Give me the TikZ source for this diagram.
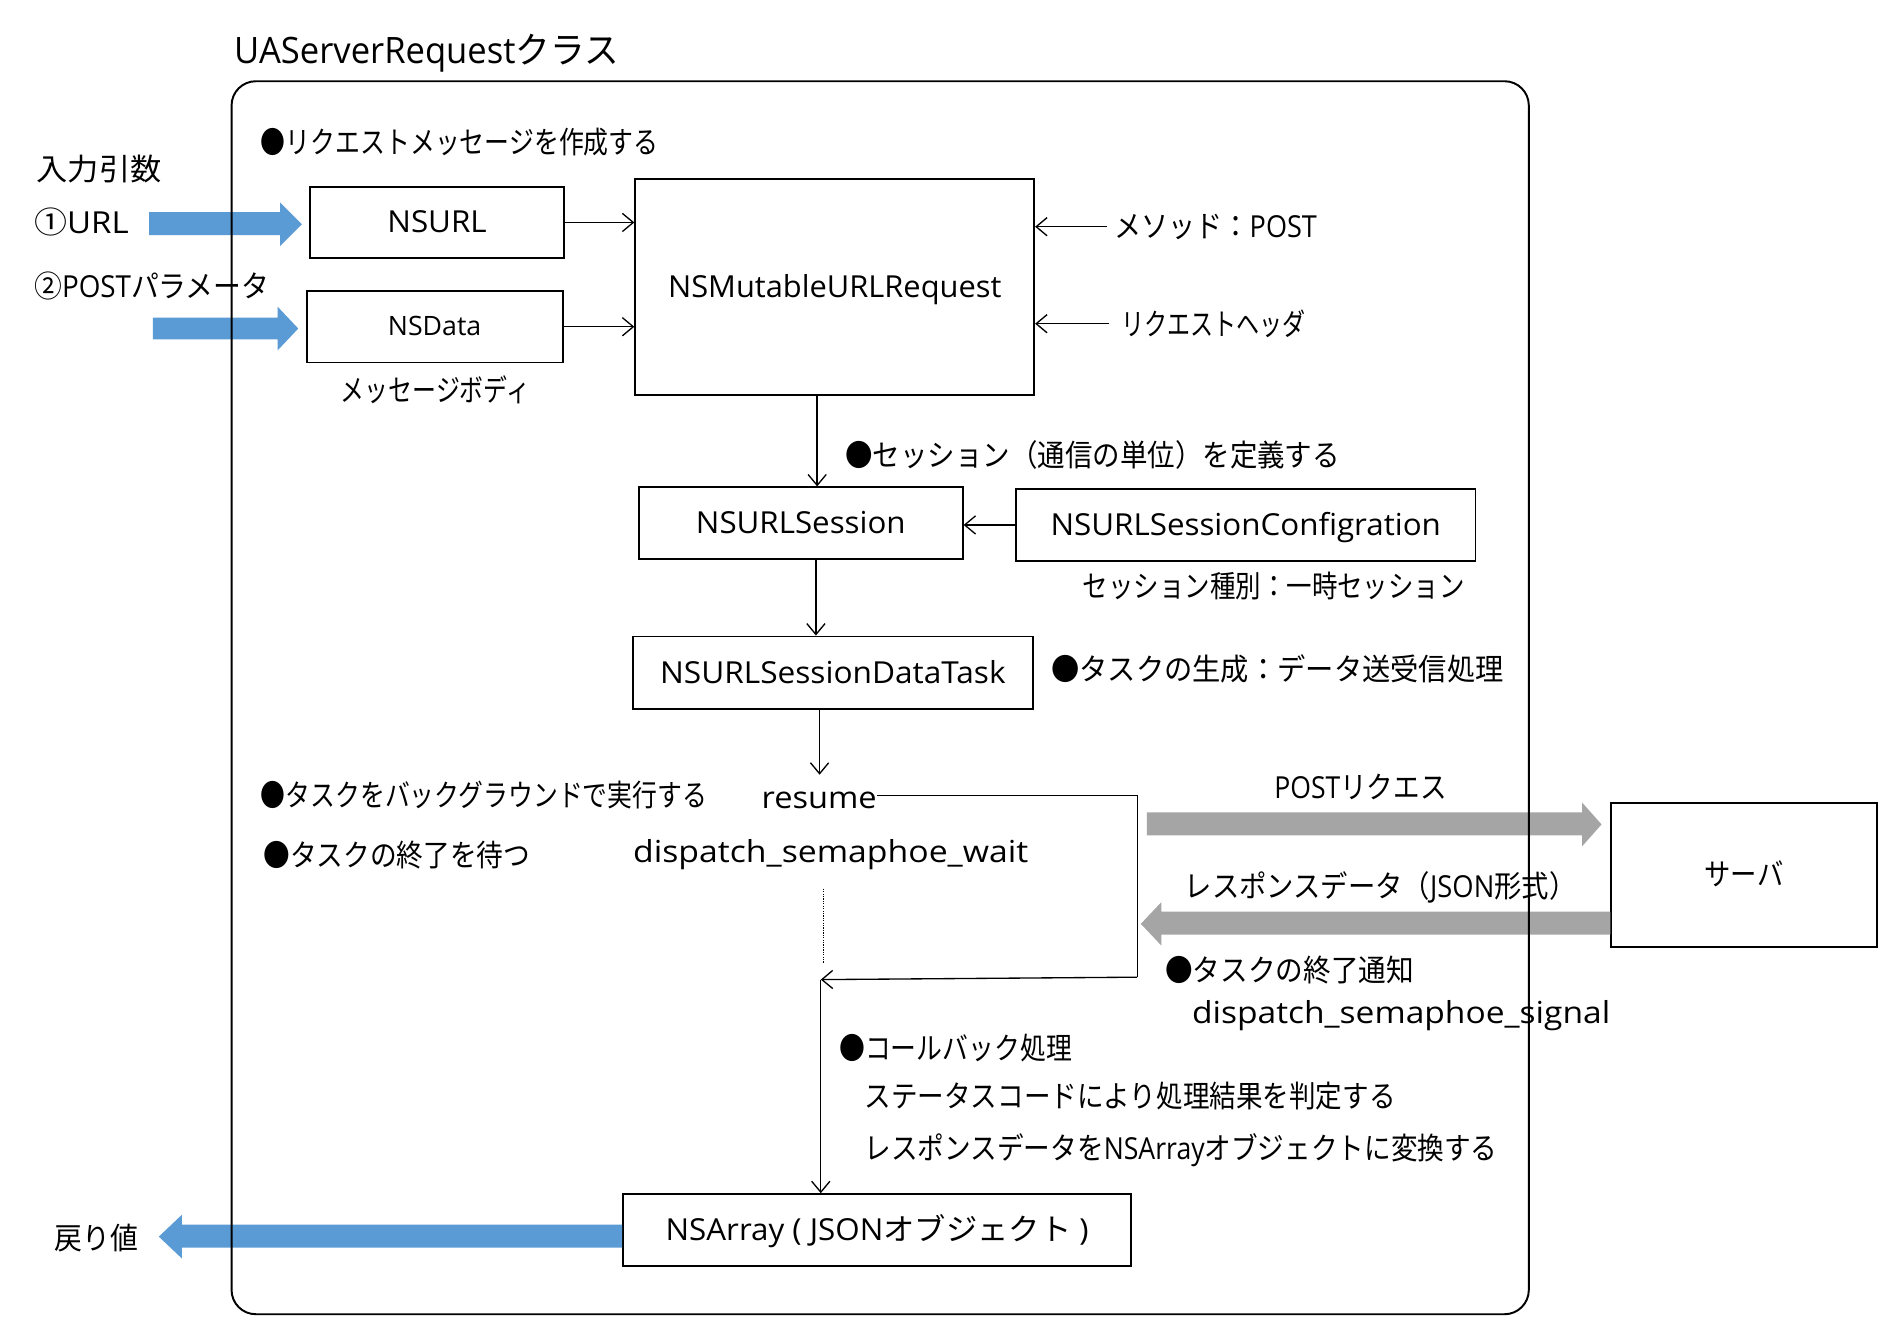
\documentclass[tikz,border=0pt]{standalone}
\usepackage{fontspec}
\usepackage{graphicx}
\setmainfont{Open Sans}
\newfontfamily\jp{Noto Sans CJK JP}
\usetikzlibrary{arrows.meta}
\definecolor{blu}{HTML}{5B9BD5}
\definecolor{gry}{HTML}{A5A5A5}
\newcommand{\fitw}[2]{\resizebox{#1pt}{\height}{#2}}
\tikzset{
  txt/.style={anchor=west, inner sep=0pt, text height=18pt, text depth=1pt},
  box/.style={draw, line width=1.6pt, inner sep=0pt, text height=18pt, text depth=1pt},
  arr/.style={line width=1.1pt, -{Straight Barb[length=9pt,width=15pt,line width=1.1pt]}},
  ln/.style={line width=1.1pt},
}
\begin{document}
\begin{tikzpicture}[x=1pt,y=-1pt,font=\fontsize{25pt}{30pt}\selectfont]
\useasboundingbox (0,0) rectangle (1568,1099.5);
\fill[white] (0,0) rectangle (1568,1099.5);

\node[txt, text height=22pt] (title) at (193,42) {\fontsize{30pt}{36pt}\selectfont\fitw{317}{UAServerRequest{\jp クラス}}};

% boxes
\node[box, minimum width=209pt, minimum height=59pt] (nsurl) at (360.5,183.5) {\fitw{82}{NSURL}};
\node[box, minimum width=211pt, minimum height=59pt, text height=16pt] (nsdata) at (358.5,269.5) {\fontsize{22pt}{26pt}\selectfont\fitw{77}{NSData}};
\node[box, minimum width=329pt, minimum height=178pt] (req) at (688.5,237) {\fitw{275}{NSMutableURLRequest}};
\node[box, minimum width=267pt, minimum height=59pt] (sess) at (660.5,431.5) {\fitw{173}{NSURLSession}};
\node[box, minimum width=379pt, minimum height=60pt] (cfg) at (1027.5,433) {\fitw{322}{NSURLSessionConfigration}};
\node[box, minimum width=330pt, minimum height=60pt] (task) at (687,555) {\fitw{285}{NSURLSessionDataTask}};
\node[box, minimum width=219pt, minimum height=119pt] (server) at (1438.5,721.5) {\fitw{65}{\jp サーバ}};
\node[box, minimum width=419pt, minimum height=59pt] (arr) at (723.5,1014.5) {\fitw{349}{NSArray ( JSON{\jp オブジェクト} )}};

% texts
\node[txt] (b1) at (215,118) {\fitw{328}{\jp ●リクエストメッセージを作成する}};
\node[txt] (inp) at (30,140) {\fitw{103}{\jp 入力引数}};
\node[txt] (in1) at (28,184) {\fitw{78}{{\jp ①}URL}};
\node[txt] (in2) at (28,237) {\fitw{194}{{\jp ②}POST{\jp パラメータ}}};
\node[txt] (body) at (281,323) {\fitw{156}{\jp メッセージボディ}};
\node[txt] (meth) at (919,187) {\fitw{167}{{\jp メソッド：}POST}};
\node[txt] (hdr) at (925,268) {\fitw{152}{\jp リクエストヘッダ}};
\node[txt] (b2) at (697,376) {\fitw{408}{\jp ●セッション（通信の単位）を定義する}};
\node[txt] (kind) at (893,484) {\fitw{315}{\jp セッション種別：一時セッション}};
\node[txt] (b3) at (867,553) {\fitw{373}{\jp ●タスクの生成：データ送受信処理}};
\node[txt] (b4) at (215,657) {\fitw{368}{\jp ●タスクをバックグラウンドで実行する}};
\node[txt] (resume) at (628,658) {\fitw{95}{resume}};
\node[txt] (b5) at (217,706) {\fitw{220}{\jp ●タスクの終了を待つ}};
\node[txt] (wait) at (522,703) {\fitw{326}{dispatch\_semaphoe\_wait}};
\node[txt] (postr) at (1051,650) {\fitw{142}{POST{\jp リクエス}}};
\node[txt] (resp) at (977,732) {\fitw{323}{{\jp レスポンスデータ（}JSON{\jp 形式）}}};
\node[txt] (b6) at (961,801) {\fitw{205}{\jp ●タスクの終了通知}};
\node[txt] (sig) at (983,836) {\fitw{345}{dispatch\_semaphoe\_signal}};
\node[txt] (b7) at (692,865) {\fitw{192}{\jp ●コールバック処理}};
\node[txt] (cb1) at (713,905) {\fitw{438}{\jp ステータスコードにより処理結果を判定する}};
\node[txt] (cb2) at (713,948) {\fitw{522}{{\jp レスポンスデータを}NSArray{\jp オブジェクトに変換する}}};
\node[txt] (ret) at (45,1022) {\fitw{69}{\jp 戻り値}};

% coordinates
\coordinate (m1) at (913,187);
\coordinate (m2) at (915,267);
\coordinate (x1) at (674,0);
\coordinate (x2) at (673,0);
\coordinate (x3) at (676,0);
\coordinate (c1) at (938,656);
\coordinate (c2) at (938,806);
\coordinate (c3) at (677,808);
\coordinate (d1) at (679,733);
\coordinate (d2) at (679,794);

% connectors
\draw[arr] (nsurl.east) -- (nsurl.east -| req.west);
\draw[arr] (nsdata.east) -- (nsdata.east -| req.west);
\draw[arr] (m1) -- (m1 -| req.east);
\draw[arr] (m2) -- (m2 -| req.east);
\draw[arr] (req.south -| x1) -- (sess.north -| x1);
\draw[arr] (cfg.west) -- (cfg.west -| sess.east);
\draw[arr] (sess.south -| x2) -- (task.north -| x2);
\draw[arr] (task.south -| x3) -- (x3 |- 0,639);
\draw[ln] (resume.east |- c1) -- (c1) -- (c2);
\draw[arr] (c2) -- (c3);
\draw[arr] (c3) -- (c3 |- arr.north);
\draw[line width=1pt, densely dotted] (d1) -- (d2);

% block arrows
\fill[blu] (arr.west |- 0,1010) -- (150,1010) -- (150,1002) -- (131,1020) -- (150,1038) -- (150,1029) -- (arr.west |- 0,1029) -- cycle;
\fill[blu] (123,175) -- (231,175) -- (231,167) -- (249,185) -- (231,203) -- (231,194) -- (123,194) -- cycle;
\fill[blu] (126,262) -- (229,262) -- (229,253) -- (246,271) -- (229,289) -- (229,280) -- (126,280) -- cycle;
\fill[gry] (946,670) -- (1305,670) -- (1305,662) -- (1321,680) -- (1305,698) -- (1305,689) -- (946,689) -- cycle;
\fill[gry] (server.west |- 0,752) -- (958,752) -- (958,744) -- (941,762) -- (958,780) -- (958,771) -- (server.west |- 0,771) -- cycle;

% outer class frame (drawn over the block arrows)
\draw[line width=1.6pt, rounded corners=20pt] (191,67) rectangle (1261,1084);
\end{tikzpicture}
\end{document}
